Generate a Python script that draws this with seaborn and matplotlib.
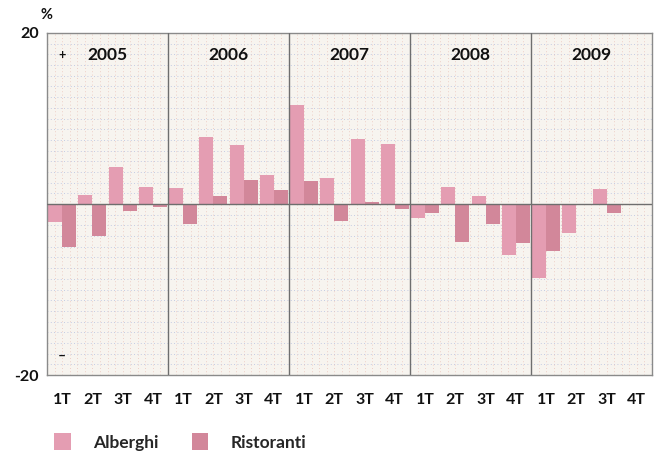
import numpy as np
import pandas as pd
import matplotlib
matplotlib.use("Agg")
import matplotlib.pyplot as plt
from matplotlib.patches import Patch
import seaborn as sns

# Quarterly change (%) by year
years = ["2005", "2006", "2007", "2008", "2009"]
quarters = ["1T", "2T", "3T", "4T"]
alberghi = [-2.1, 1.0, 4.3, 2.0,
            1.9, 7.8, 6.9, 3.4,
            11.6, 3.0, 7.6, 7.0,
            -1.6, 2.0, 0.9, -6.0,
            -8.7, -3.4, 1.8, 0.0]
ristoranti = [-5.0, -3.7, -0.8, -0.3,
              -2.3, 0.9, 2.8, 1.6,
              2.7, -2.0, 0.2, -0.6,
              -1.0, -4.4, -2.3, -4.5,
              -5.5, 0.0, -1.0, 0.0]
series = ["Alberghi", "Ristoranti"]
colors = ["#e49db2", "#d2879a"]

periods = [f"{y} {q}" for y in years for q in quarters]
df = pd.DataFrame({
    "periodo": periods * 2,
    "serie": [series[0]] * len(periods) + [series[1]] * len(periods),
    "valore": alberghi + ristoranti,
})

sns.set_theme(style="white")
plt.rcParams["font.family"] = ["Lato", "DejaVu Sans"]
plt.rcParams["font.weight"] = "bold"

fig = plt.figure(figsize=(6.65, 4.58), dpi=100)
ax = fig.add_axes([0.0707, 0.181, 0.9097, 0.747])
ax.set_facecolor("#f7f4ef")

sns.barplot(data=df, x="periodo", y="valore", hue="serie", order=periods,
            hue_order=series, palette=colors, width=0.92, dodge=True,
            saturation=1, ax=ax, legend=False, linewidth=0)

n = len(periods)
ax.set_xlim(-0.5, n - 0.5)
ax.set_ylim(-20, 20)

# dotted background texture
for yv in np.arange(-20, 20, 1.25):
    ax.axhline(yv, color="#b3bee0", lw=0.6, ls=(0, (1, 3)), zorder=0)
for xv in np.arange(-0.5, n - 0.5, 0.25):
    ax.axvline(xv, color="#ebc2b8", lw=0.6, ls=(0, (1, 3)), zorder=0)

# year separators and zero line
for i in range(1, len(years)):
    ax.axvline(i * 4 - 0.5, color="#6e6e6e", lw=1.0, zorder=3)
ax.axhline(0, color="#6e6e6e", lw=1.0, zorder=3)

for s in ax.spines.values():
    s.set_color("#8a8a8a")
    s.set_linewidth(1.0)
    s.set_visible(True)

for i, y in enumerate(years):
    ax.text(i * 4 + 1.5, 17.4, y, ha="center", va="center",
            fontsize=12.5, fontweight="bold", color="#111111")
ax.text(0.0, 17.4, "+", ha="center", va="center", fontsize=9,
        fontweight="bold", color="#111111")
ax.text(0.0, -17.7, "–", ha="center", va="center", fontsize=10,
        fontweight="bold", color="#111111")

ax.set_xticks(range(n))
ax.set_xticklabels([q for _ in years for q in quarters], fontsize=11.5,
                   fontweight="bold", color="#111111")
ax.set_yticks([-20, 20])
ax.set_yticklabels(["-20", "20"], fontsize=11.5, fontweight="bold",
                   color="#111111")
ax.tick_params(axis="x", length=0, pad=13)
ax.tick_params(axis="y", length=0, pad=6)
ax.set_xlabel("")
ax.set_ylabel("")

fig.text(0.070, 0.968, "%", fontsize=10.5, fontweight="bold", color="#111111",
         ha="center", va="center")

handles = [Patch(facecolor=c, edgecolor="none") for c in colors]
fig.legend(handles, series, loc="lower left", bbox_to_anchor=(0.058, -0.018),
           ncol=2, frameon=False, fontsize=12.5, handlelength=0.95,
           handleheight=1.1, handletextpad=1.3, columnspacing=1.9)

fig.savefig("out.png", dpi=100)
